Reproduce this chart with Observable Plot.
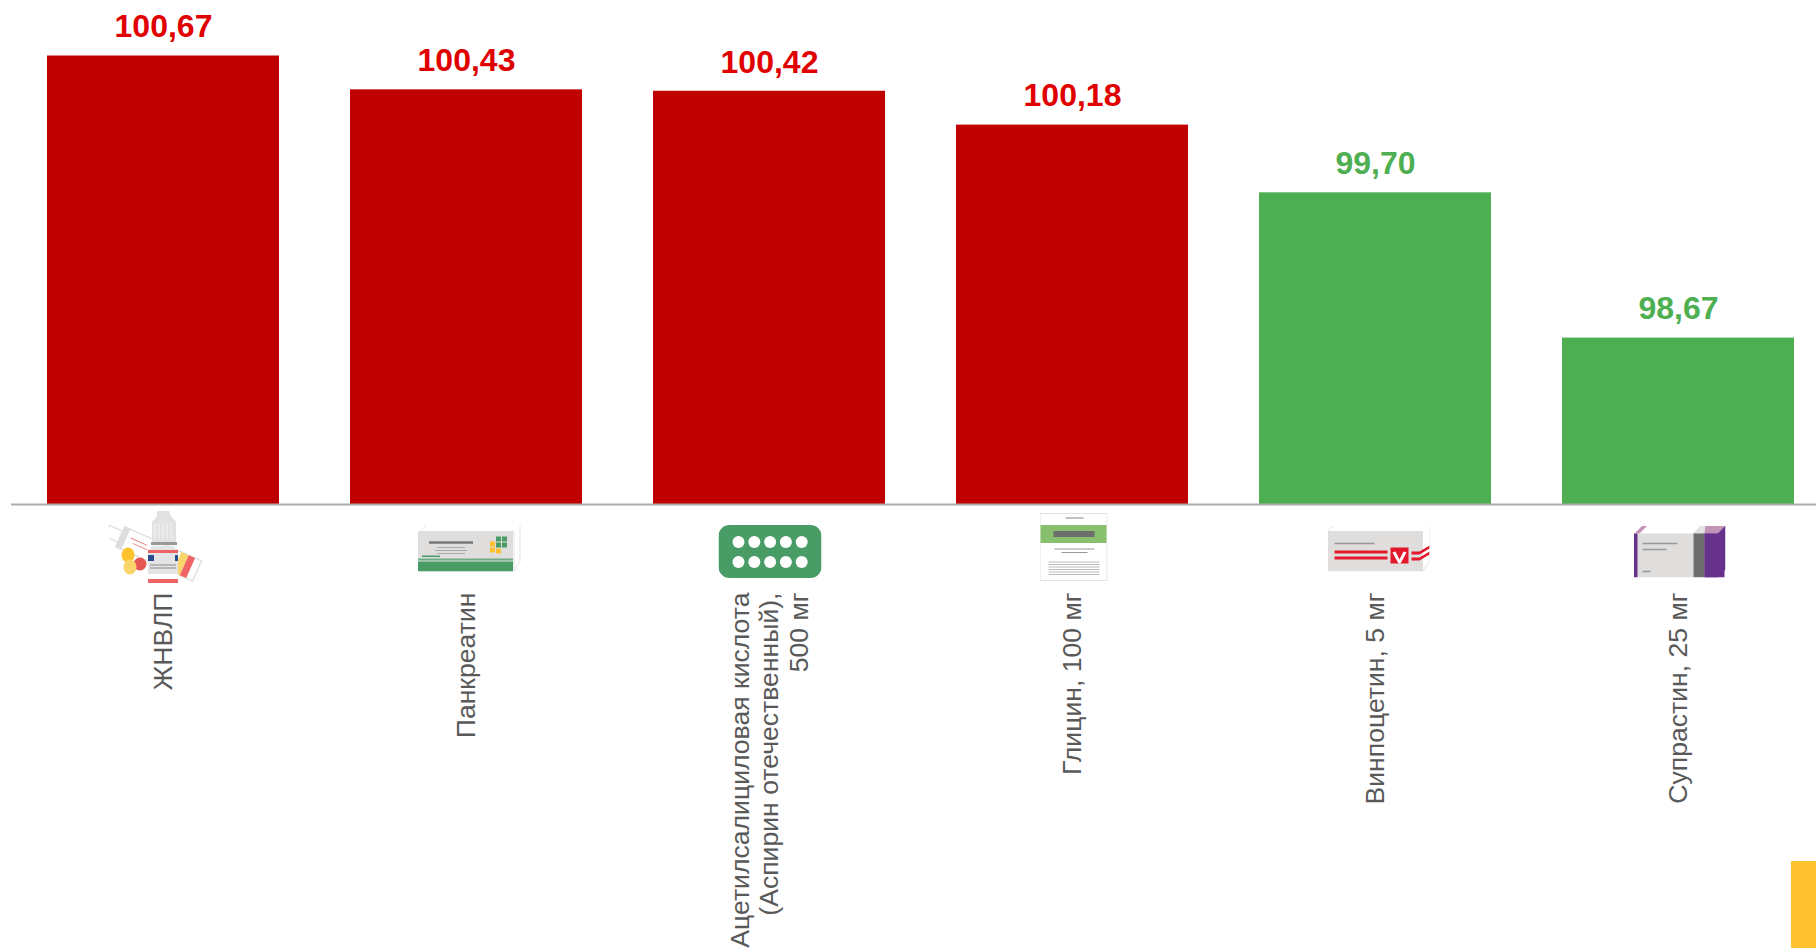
<!DOCTYPE html>
<html><head><meta charset="utf-8">
<script src="https://cdn.jsdelivr.net/npm/d3@7"></script>
<script src="https://cdn.jsdelivr.net/npm/@observablehq/plot@0.6"></script>
<style>
html,body{margin:0;padding:0;background:#fff;overflow:hidden}
#c{position:relative;width:1816px;height:948px;overflow:hidden}
#c svg{display:block}
#y{position:absolute;left:1791px;top:861px;width:25px;height:87px;background:#FFC12E}
</style></head><body><div id="c"><div id="y"></div></div>
<script>
const categories = ["ЖНВЛП","Панкреатин","Ацетилсалициловая кислота\n(Аспирин отечественный),\n500 мг","Глицин, 100 мг","Винпоцетин, 5 мг","Супрастин, 25 мг"];
const values = [100.67,100.43,100.42,100.18,99.70,98.67];
const labels = ["100,67","100,43","100,42","100,18","99,70","98,67"];
const barColors = ["#C00000","#C00000","#C00000","#C00000","#4EAF52","#4EAF52"];
const textColors = ["#E00000","#E00000","#E00000","#E00000","#4EAF52","#4EAF52"];
const baseValue = 97.49;

const svg = (w,h,body)=>"data:image/svg+xml;utf8,"+encodeURIComponent(`<svg xmlns="http://www.w3.org/2000/svg" width="${w}" height="${h}" viewBox="0 0 ${w} ${h}">${body}</svg>`);
const iconDrops = svg(96,72,`
<g transform="translate(3,10) rotate(24)"><rect x="0" y="5" width="14" height="12" fill="#fff" stroke="#e2e2e2" stroke-width="1.5"/><rect x="14" y="0" width="84" height="22" fill="#fff" stroke="#e2e2e2" stroke-width="1.5"/><rect x="14" y="0" width="6" height="22" fill="#ddd"/><rect x="76" y="0" width="8" height="22" fill="#FAD56B"/><rect x="84" y="0" width="7" height="22" fill="#EE6464"/><path d="M24 8h18M28 12h16" stroke="#F08080" stroke-width="1"/></g>
<path d="M48 0h12l2 5 5 6v20H43V11l5-6z" fill="#e2e2e2"/><path d="M46 12v16M50 12v16M54 12v16M58 12v16M62 12v16" stroke="#f3f3f3" stroke-width="1"/><rect x="42" y="31" width="26" height="3" fill="#999"/>
<path d="M39 40l5-5h20l5 5v32H39z" fill="#e4e4e4"/><rect x="39" y="39" width="30" height="3" fill="#EE6464"/><rect x="39" y="44" width="6" height="6" fill="#2B4C8C"/><rect x="66" y="44" width="3" height="6" fill="#2B4C8C"/><path d="M41 54h26M41 57h26" stroke="#888" stroke-width="1.2"/><rect x="39" y="63" width="30" height="5" fill="#fff"/><rect x="39" y="68" width="30" height="4" fill="#EE6464"/>
<ellipse cx="19" cy="44" rx="6.5" ry="7.5" fill="#FFC12E"/><circle cx="31" cy="53" r="6.5" fill="#E85555"/><ellipse cx="21" cy="56" rx="6.5" ry="7.5" fill="#FAD56B"/>`);
const iconPancreatin = svg(103,46,`
<path d="M2 6L8 0H102V36L96 46V6z" fill="#fff" stroke="#e2e2e2"/><rect x="0" y="6" width="95" height="40" fill="#dfdedc"/>
<path d="M11 17h44" stroke="#777" stroke-width="2.5"/><path d="M19 22h28M17 25h32M19 28h28" stroke="#aaa" stroke-width="1.2"/>
<g fill="#4A9C67"><rect x="78" y="11" width="5" height="5"/><rect x="84" y="11" width="5" height="5"/><rect x="78" y="17" width="5" height="5"/><rect x="84" y="17" width="5" height="5"/></g>
<g fill="#FFC12E"><rect x="72" y="16" width="5" height="5"/><rect x="72" y="22" width="5" height="5"/><rect x="78" y="23" width="5" height="5"/></g>
<rect x="0" y="33" width="95" height="2" fill="#6fae87"/><rect x="0" y="36" width="95" height="10" fill="#4A9C67"/><rect x="4" y="30" width="18" height="1.5" fill="#4A9C67"/>`);
const circles = [0,1,2,3,4].flatMap(i=>[17,37].map(y=>`<circle cx="${20+i*15.8}" cy="${y}" r="6" fill="#fff"/>`)).join("");
const iconPills = svg(103,53,`<rect width="103" height="53" rx="11" fill="#4A9C67"/>${circles}`);
const iconGlycine = svg(68,68,`
<rect x="0.5" y="0.5" width="67" height="67" fill="#fff" stroke="#e2e2e2"/><path d="M26 5h18" stroke="#888" stroke-width="1.2"/>
<rect x="1" y="12" width="66" height="18" fill="#88BF6D"/><rect x="14" y="18" width="41" height="6" fill="#6d6d6d"/>
<path d="M15 36h40M22 39.5h26" stroke="#999" stroke-width="1.2"/><path d="M9 49h51M9 51.5h51M9 54h51M9 56.5h51M9 59h51M9 61.5h51" stroke="#bbb" stroke-width="1.1"/>`);
const iconVinpo = svg(102,46,`
<path d="M0 6L6 0H102V36L95 46V6z" fill="#fff" stroke="#e2e2e2"/><rect x="0" y="6" width="95" height="40" fill="#dfdedc"/>
<path d="M7 18h40" stroke="#999" stroke-width="1.5"/><rect x="7" y="25" width="53" height="3" fill="#E2182C"/><rect x="7" y="31" width="53" height="3" fill="#E2182C"/>
<path d="M63 22h18v16H63z" fill="#E2182C"/><path d="M65 27l3-1 4 8 4-8 3 1-6 11h-2z" fill="#fff"/>
<path d="M84 26h8l10-6v3l-10 6h-8zM84 32h8l10-6v3l-10 6h-8z" fill="#E2182C"/>`);
const iconSuprastin = svg(92,52,`
<path d="M0 8L8 0H92V44L84 52V8z" fill="#fff"/><path d="M1 8L9 0h5L6 8z" fill="#C393B5"/><path d="M60 8L68 0H92L84 8z" fill="#C393B5"/><path d="M60 8L68 0H72L71 8z" fill="#e3e3e3"/>
<rect x="0" y="8" width="60" height="44" fill="#dfdedc"/><rect x="0" y="8" width="4" height="44" fill="#67328B"/>
<rect x="60" y="8" width="11" height="44" fill="#6d6d6d"/><rect x="71" y="8" width="20" height="44" fill="#67328B"/><path d="M71 52h13l8-8V0L84 8H71z" fill="#67328B"/>
<path d="M9 18h35M9 24h24M9 46h8" stroke="#999" stroke-width="1.5"/>`);
const iconSrc = [iconDrops,iconPancreatin,iconPills,iconGlycine,iconVinpo,iconSuprastin];
const iconW = [96,103,103,68,102,92];
const iconH = [72,46,53,68,46,52];
const iconDx = [-6.5,3,0.5,1,3,1];
const iconDy = [42.5,44,47,42.5,44,47];

const data = categories.map((c,i)=>({c,v:values[i],l:labels[i],f:barColors[i],t:textColors[i],src:iconSrc[i],w:iconW[i],h:iconH[i],dx:iconDx[i],dy:iconDy[i]}));

const chart = Plot.plot({
  width:1816,height:948,marginLeft:11,marginRight:0,marginTop:0,marginBottom:444,
  style:{background:"#fff",fontFamily:"'Liberation Sans',Arial,sans-serif"},
  x:{domain:categories,range:[46.5,1795],paddingInner:0.2345,paddingOuter:0,label:null},
  y:{domain:[baseValue,100.67],range:[504,55.5],axis:null,label:null},
  marks:[
    Plot.barY(data,{x:"c",y1:()=>baseValue,y2:"v",fill:d=>d.f}),
    Plot.ruleY([baseValue],{stroke:"#ABABAB",strokeWidth:2}),
    Plot.axisX({anchor:"bottom",tickSize:0,tickRotate:-90,tickPadding:88,fontSize:26.6,fill:"#595959",lineHeight:1.1,label:null,tickFormat:d=>d,dx:-0.5}),
    Plot.text(data,{x:"c",y:"v",text:"l",fill:d=>d.t,fontSize:32,fontWeight:"bold",dy:-29}),
    ...data.map(d=>Plot.image([d],{x:"c",y:()=>baseValue,src:"src",width:d.w,height:d.h,dx:d.dx,dy:d.dy,preserveAspectRatio:"none"}))
  ]
});
document.getElementById("c").prepend(chart);
</script></body></html>
